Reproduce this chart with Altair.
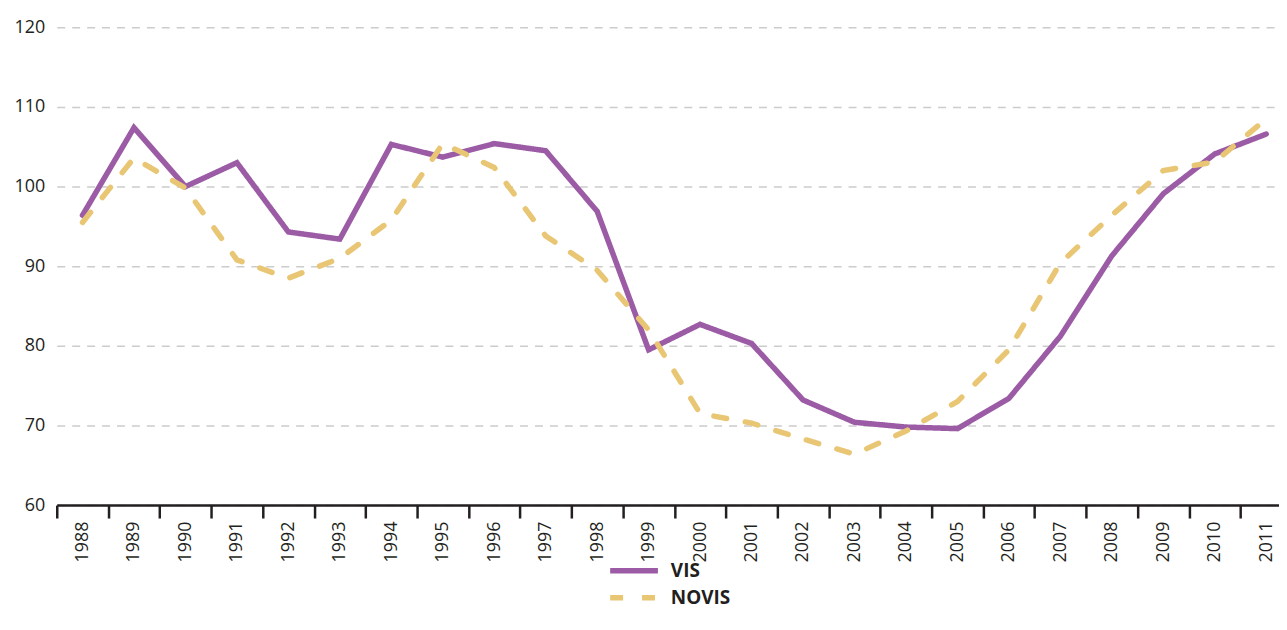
import altair as alt
import pandas as pd

years = [str(y) for y in range(1988, 2012)]
vis = [96.4, 107.4, 100.0, 103.0, 94.3, 93.4, 105.3, 103.7, 105.4, 104.5, 96.9, 79.5,
       82.7, 80.3, 73.2, 70.4, 69.8, 69.6, 73.4, 81.2, 91.3, 99.1, 104.1, 106.6]
novis = [95.5, 103.6, 99.8, 90.8, 88.5, 91.0, 95.8, 105.4, 102.4, 93.8, 89.5, 82.0,
         71.5, 70.3, 68.3, 66.4, 69.3, 73.0, 79.5, 90.4, 96.4, 102.0, 103.1, 108.5]
series = ["VIS", "NOVIS"]
colors = ["#9b5ba5", "#e8c674"]
y_ticks = [60, 70, 80, 90, 100, 110, 120]

rows = []
for s, vals in zip(series, [vis, novis]):
    for y, v in zip(years, vals):
        rows.append({"year": y, "value": v, "series": s, "order": series.index(s)})
df = pd.DataFrame(rows)

FONT = "Open Sans"
TXT = "#231f20"

legend = alt.Legend(
    title=None, orient="none", legendX=553, legendY=536, symbolType="stroke",
    symbolSize=2300, symbolStrokeWidth=5.5, labelFont=FONT, labelFontSize=19,
    labelFontWeight="bold", labelColor=TXT, labelOffset=10, clipHeight=20,
    rowPadding=7,
)

chart = alt.Chart(df).mark_line(strokeWidth=5.5, strokeCap="round").encode(
    x=alt.X(
        "year:O",
        bandPosition=0.5,
        sort=years,
        scale=alt.Scale(type="band", paddingInner=0, paddingOuter=0, range=[0, 1241]),
        axis=alt.Axis(
            title=None, labelAngle=-90, tickBand="extent", tickSize=13, tickWidth=2.5,
            tickColor=TXT, domainColor=TXT, domainWidth=2.5, labelPadding=3,
            labelFont=FONT, labelFontSize=18, labelColor=TXT, grid=False,
        ),
    ),
    y=alt.Y(
        "value:Q",
        scale=alt.Scale(domain=[60, 120], nice=False, zero=False),
        axis=alt.Axis(
            title=None, values=y_ticks, domain=False, ticks=False, tickSize=0,
            labelPadding=12, labelFont=FONT, labelFontSize=18, labelColor=TXT,
            grid=True, gridDash=[8, 7], gridColor="#cccccc", gridWidth=1.5,
        ),
    ),
    color=alt.Color(
        "series:N",
        sort=series,
        scale=alt.Scale(domain=series, range=colors),
        legend=legend,
    ),
    strokeDash=alt.StrokeDash(
        "series:N",
        sort=series,
        scale=alt.Scale(domain=series, range=[[1, 0], [13, 19]]),
        legend=legend,
    ),
    order=alt.Order("order:Q"),
).properties(
    width=1228,
    height=480,
    autosize=alt.AutoSizeParams(type="none"),
    padding={"left": 49, "top": 18, "right": 0, "bottom": 110},
).configure_view(stroke=None)

chart.save("out.html", embed_options={"renderer": "svg", "actions": False})
